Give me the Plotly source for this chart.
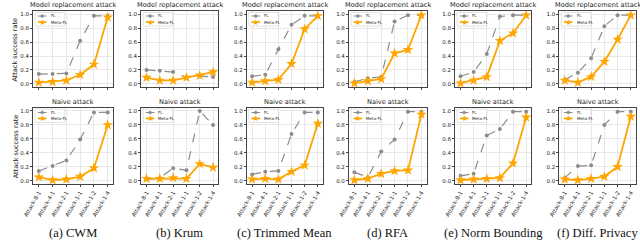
import plotly.graph_objects as go

categories = ["Attack-8-1", "Attack-4-1", "Attack-2-1", "Attack-1-1", "Attack-1-2", "Attack-1-4"]
methods = ["(a) CWM", "(b) Krum", "(c) Trimmed Mean", "(d) RFA", "(e) Norm Bounding", "(f) Diff. Privacy"]
row_titles = ["Model replacement attack", "Naive attack"]
series_names = ["FL", "Meta-FL"]

# Model replacement attack
mr_fl_cwm = [0.14, 0.14, 0.15, 0.62, 0.98, 0.98]
mr_meta_cwm = [0.02, 0.03, 0.05, 0.13, 0.28, 0.96]
mr_fl_krum = [0.20, 0.19, 0.17, 0.09, 0.11, 0.10]
mr_meta_krum = [0.09, 0.05, 0.05, 0.09, 0.12, 0.17]
mr_fl_tm = [0.11, 0.13, 0.50, 0.85, 0.98, 0.98]
mr_meta_tm = [0.02, 0.04, 0.06, 0.29, 0.79, 0.98]
mr_fl_rfa = [0.03, 0.08, 0.10, 0.90, 0.99, 0.99]
mr_meta_rfa = [0.01, 0.04, 0.07, 0.44, 0.49, 0.99]
mr_fl_nb = [0.11, 0.17, 0.43, 0.97, 0.99, 0.99]
mr_meta_nb = [0.01, 0.05, 0.10, 0.62, 0.73, 0.99]
mr_fl_dp = [0.06, 0.16, 0.37, 0.83, 0.99, 0.99]
mr_meta_dp = [0.05, 0.02, 0.10, 0.32, 0.64, 0.99]

# Naive attack
na_fl_cwm = [0.14, 0.21, 0.29, 0.59, 0.98, 0.98]
na_meta_cwm = [0.05, 0.01, 0.02, 0.06, 0.18, 0.80]
na_fl_krum = [0.02, 0.04, 0.18, 0.15, 1.00, 0.80]
na_meta_krum = [0.03, 0.03, 0.04, 0.03, 0.24, 0.19]
na_fl_tm = [0.09, 0.13, 0.14, 0.67, 0.98, 0.98]
na_meta_tm = [0.02, 0.03, 0.02, 0.13, 0.22, 0.82]
na_fl_rfa = [0.12, 0.05, 0.42, 0.59, 0.99, 0.99]
na_meta_rfa = [0.01, 0.03, 0.10, 0.14, 0.15, 0.95]
na_fl_nb = [0.07, 0.10, 0.65, 0.74, 0.99, 0.99]
na_meta_nb = [0.01, 0.02, 0.03, 0.04, 0.25, 0.91]
na_fl_dp = [0.04, 0.21, 0.22, 0.80, 0.99, 0.99]
na_meta_dp = [0.02, 0.01, 0.03, 0.06, 0.20, 0.92]

rows = [
    [(mr_fl_cwm, mr_meta_cwm), (mr_fl_krum, mr_meta_krum), (mr_fl_tm, mr_meta_tm),
     (mr_fl_rfa, mr_meta_rfa), (mr_fl_nb, mr_meta_nb), (mr_fl_dp, mr_meta_dp)],
    [(na_fl_cwm, na_meta_cwm), (na_fl_krum, na_meta_krum), (na_fl_tm, na_meta_tm),
     (na_fl_rfa, na_meta_rfa), (na_fl_nb, na_meta_nb), (na_fl_dp, na_meta_dp)],
]

W, H = 640, 241
GREY = "#8c8c8c"
ORANGE = "#FFA500"
col_px = [(22.7, 104), (132.5, 211), (240, 317.5), (344, 423), (452, 529.5), (558, 636)]
row_px = [(11, 87.3), (107.5, 184.2)]
title_y = [5.2, 101.5]


def px(x):
    return x / W


def py(y):
    return 1 - y / H


fig = go.Figure()
layout = dict(
    width=W, height=H, margin=dict(l=0, r=0, t=0, b=0),
    paper_bgcolor="white", plot_bgcolor="white", showlegend=False,
    font=dict(family="DejaVu Sans", color="#222"),
)
annotations = []
shapes = []
idx = 0
for r in range(2):
    y0, y1 = row_px[r]
    ydom = [py(y1), py(y0)]
    for c in range(6):
        idx += 1
        sfx = "" if idx == 1 else str(idx)
        x0, x1 = col_px[c]
        xdom = [px(x0), px(x1)]
        fl, meta = rows[r][c]
        fig.add_trace(go.Scatter(
            x=list(range(6)), y=fl, name=series_names[0], mode="lines+markers",
            line=dict(color=GREY, width=1.2, dash="dash"),
            marker=dict(symbol="circle", size=4, color=GREY),
            xaxis=f"x{sfx}", yaxis=f"y{sfx}"))
        fig.add_trace(go.Scatter(
            x=list(range(6)), y=meta, name=series_names[1], mode="lines+markers",
            line=dict(color=ORANGE, width=1.8),
            marker=dict(symbol="star", size=8, color=ORANGE),
            xaxis=f"x{sfx}", yaxis=f"y{sfx}"))
        common = dict(
            tickfont=dict(size=5.5, color="#222"),
            ticks="outside", ticklen=2, tickcolor="#444",
            showgrid=True, gridcolor="#e8e8e8", gridwidth=0.8,
            showline=True, linecolor="#444", linewidth=1.2, mirror=True,
            zeroline=False, fixedrange=True)
        layout[f"xaxis{sfx}"] = dict(
            domain=xdom, anchor=f"y{sfx}", range=[-0.4, 5.4],
            tickmode="array", tickvals=list(range(6)),
            ticktext=categories if r == 1 else [""] * 6,
            tickangle=-60, **common)
        layout[f"yaxis{sfx}"] = dict(
            domain=ydom, anchor=f"x{sfx}", range=[-0.05, 1.05],
            tickmode="array", tickvals=[0, 0.2, 0.4, 0.6, 0.8, 1.0],
            ticktext=["0.0", "0.2", "0.4", "0.6", "0.8", "1.0"], **common)

        # legend box (drawn by hand: plotly's own legend cannot be made this small)
        shapes.append(dict(type="rect", xref="paper", yref="paper", layer="above",
                           x0=px(x0 + 2), x1=px(x0 + 32), y0=py(y0 + 15), y1=py(y0 + 1.5),
                           line=dict(color="#d0d0d0", width=0.6),
                           fillcolor="rgba(255,255,255,0.85)"))
        ly1, ly2 = y0 + 5, y0 + 11
        shapes.append(dict(type="line", xref="paper", yref="paper", layer="above",
                           x0=px(x0 + 4.5), x1=px(x0 + 13.5), y0=py(ly1), y1=py(ly1),
                           line=dict(color=GREY, width=1, dash="dash")))
        shapes.append(dict(type="circle", xref="paper", yref="paper", layer="above",
                           x0=px(x0 + 7.5), x1=px(x0 + 10.5), y0=py(ly1 + 1.5), y1=py(ly1 - 1.5),
                           line=dict(color=GREY, width=0.5), fillcolor=GREY))
        shapes.append(dict(type="line", xref="paper", yref="paper", layer="above",
                           x0=px(x0 + 4.5), x1=px(x0 + 13.5), y0=py(ly2), y1=py(ly2),
                           line=dict(color=ORANGE, width=1.6)))
        annotations.append(dict(text="★", x=px(x0 + 9), y=py(ly2), xref="paper", yref="paper",
                                xanchor="center", yanchor="middle", showarrow=False,
                                font=dict(size=8, color=ORANGE)))
        for name, ly in ((series_names[0], ly1), (series_names[1], ly2)):
            annotations.append(dict(text=name, x=px(x0 + 15.5), y=py(ly), xref="paper", yref="paper",
                                    xanchor="left", yanchor="middle", showarrow=False,
                                    font=dict(size=4, color="#222")))

        annotations.append(dict(
            text=row_titles[r], x=(xdom[0] + xdom[1]) / 2, y=py(title_y[r]),
            xref="paper", yref="paper", xanchor="center", yanchor="middle",
            showarrow=False, font=dict(size=6.6, color="#222")))
        if r == 1:
            annotations.append(dict(
                text=methods[c], x=(xdom[0] + xdom[1]) / 2, y=py(233),
                xref="paper", yref="paper", xanchor="center", yanchor="middle",
                showarrow=False, font=dict(size=12.5, family="Liberation Serif", color="#111")))
    annotations.append(dict(
        text="Attack success rate", x=px(4.5), y=py((y0 + y1) / 2),
        xref="paper", yref="paper", xanchor="center", yanchor="middle",
        textangle=-90, showarrow=False, font=dict(size=6.5, color="#222")))

layout["annotations"] = annotations
layout["shapes"] = shapes
fig.update_layout(**layout)
fig.write_html("out.html", config={"displayModeBar": False},
               post_script="document.body.style.margin='0';document.body.style.padding='0';")
